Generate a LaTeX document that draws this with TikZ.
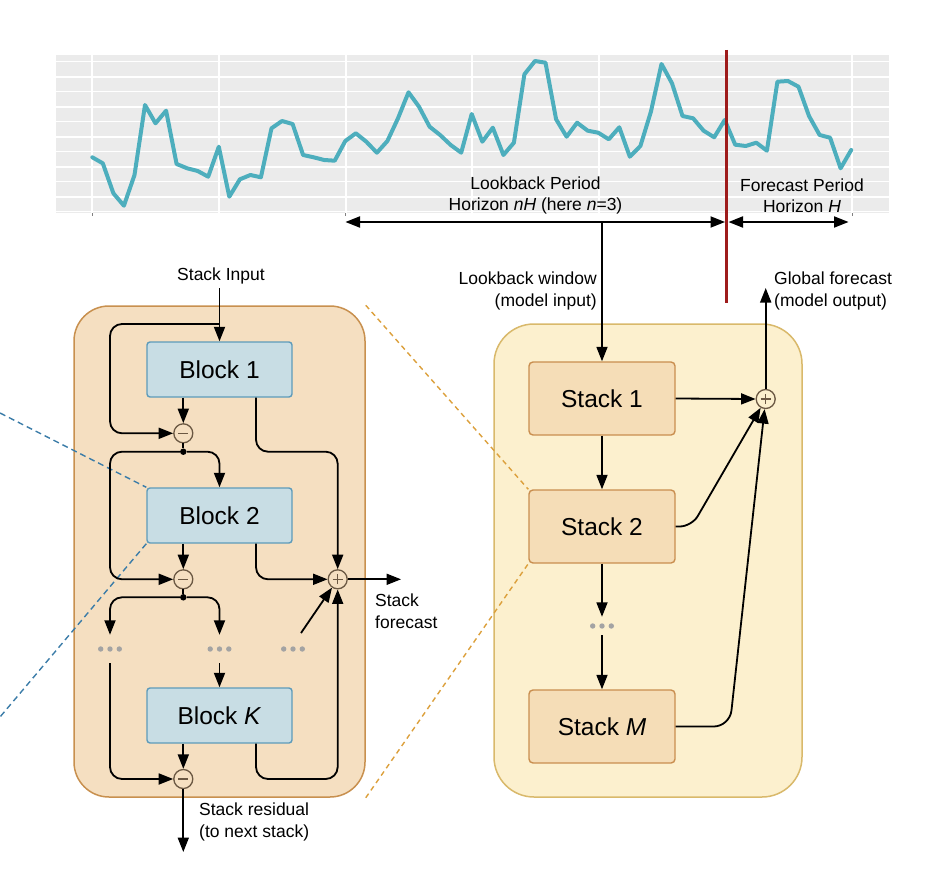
\documentclass[tikz,border=0pt]{standalone}
\usepackage{fontspec}
\setmainfont{Liberation Sans}
\usetikzlibrary{arrows.meta}
\definecolor{chartbg}{HTML}{EBEBEB}
\definecolor{series}{HTML}{4DAEBD}
\definecolor{cutred}{HTML}{9E1C1C}
\definecolor{lpfill}{HTML}{F5DFC1}
\definecolor{lpline}{HTML}{C8904F}
\definecolor{blkfill}{HTML}{C8DDE4}
\definecolor{blkline}{HTML}{5E9BBA}
\definecolor{rpfill}{HTML}{FCF0CE}
\definecolor{rpline}{HTML}{D9B96B}
\definecolor{stkfill}{HTML}{F5DDB7}
\definecolor{stkline}{HTML}{C98E4F}
\definecolor{opline}{HTML}{6B5843}
\definecolor{dotgray}{HTML}{A3A3A3}
\definecolor{bluedash}{HTML}{3B7CA8}
\definecolor{orangedash}{HTML}{DCA03C}
\begin{document}
\begin{tikzpicture}[x=1pt,y=-1pt,
  tip/.style={-{Triangle[length=14.5pt,width=11pt]}},
  wire/.style={line width=1.8pt, rounded corners=12pt},
  lbl/.style={font=\fontsize{17.5}{21.5}\selectfont, inner sep=0pt},
  blk/.style={draw=blkline, fill=blkfill, line width=1.4pt, rounded corners=3pt, minimum width=145pt, minimum height=55pt, inner sep=0pt, font=\fontsize{24.5}{28}\selectfont},
  stk/.style={draw=stkline, fill=stkfill, line width=1.4pt, rounded corners=4pt, minimum width=146pt, minimum height=73pt, inner sep=0pt, font=\fontsize{24.5}{28}\selectfont},
  opc/.style={circle, draw=opline, line width=1.3pt, minimum size=19pt, inner sep=0pt},
  opminus/.style={opc, fill=lpfill, path picture={\draw[line width=1.4pt] ([xshift=-5pt]path picture bounding box.center) -- ([xshift=5pt]path picture bounding box.center);}},
  opplus/.style={opc, path picture={\draw[line width=1.3pt] ([xshift=-5pt]path picture bounding box.center) -- ([xshift=5pt]path picture bounding box.center) ([yshift=-5pt]path picture bounding box.center) -- ([yshift=5pt]path picture bounding box.center);}},
  jdot/.style={circle, fill=black, minimum size=6.5pt, inner sep=0pt},
  ellip/.style={minimum width=28pt, minimum height=#1, inner sep=0pt},
  ellip/.default=28pt,
  panel/.style={line width=1.5pt, inner sep=0pt},
]
\useasboundingbox (0,0) rectangle (942,880);

% ---------- chart ----------
\fill[chartbg] (56,55) rectangle (889,213);
\foreach \k in {0,2,...,10} \draw[white, line width=1.2pt] (56,{61.7+15*\k}) -- (889,{61.7+15*\k});
\foreach \k in {1,3,...,9} \draw[white, line width=2.2pt] (56,{61.7+15*\k}) -- (889,{61.7+15*\k});
\foreach \k in {0,...,6} \draw[white, line width=2pt] ({92.3+126.65*\k},55) -- ({92.3+126.65*\k},213);
\foreach \x in {92.3,345.7,852} \draw[gray, line width=0.8pt] (\x,213) -- (\x,215.5);

\draw[series, line width=4pt, line join=round, line cap=round] plot coordinates {
(92.3,157.3) (102.8,163.3) (113.4,193.3) (123.9,205.7) (134.5,175) (145.0,105) (155.5,123.3) (166.1,110.7) (176.6,164) (187.2,168.3) (197.7,171) (208.2,176.7) (218.8,146.7) (229.3,196.7) (239.9,179.3) (250.4,175) (260.9,177.3) (271.5,128.3) (282.0,121) (292.6,124) (303.1,155) (313.6,157.3) (324.2,160) (334.7,160.7) (345.3,141) (355.8,133.3) (366.3,141.7) (376.9,152.7) (387.4,141) (398.0,118.3) (408.5,92.3) (419.0,106.7) (429.6,126.7) (440.1,135) (450.7,145) (461.2,152.7) (471.7,114) (482.3,141.7) (492.8,127.7) (503.4,155) (513.9,142.7) (524.4,74.3) (535.0,61) (545.5,62.7) (556.1,119.3) (566.6,136.7) (577.1,122.7) (587.7,130.7) (598.2,132.7) (608.8,139.3) (619.3,127.3) (629.8,156.7) (640.4,146) (650.9,111.7) (661.5,64) (672.0,83.3) (682.5,116) (693.1,118.3) (703.6,130.7) (714.2,137.3) (724.7,120) (735.2,144.7) (745.8,146) (756.3,142.7) (766.9,150.7) (777.4,81.7) (787.9,81) (798.5,86.7) (809.0,116) (819.6,135) (830.1,137.7) (840.6,168.3) (851.2,150)};

\draw[cutred, line width=3pt] (726.5,50) -- (726.5,303);

\node[lbl, align=center] (lbtxt) at (535.5,195.5) {Lookback Period\\Horizon \textit{nH} (here \textit{n}=3)};
\node[lbl, align=center] (fctxt) at (802,195.5) {Forecast Period\\Horizon \textit{H}};

\coordinate (lbL) at (345.5,222);
\coordinate (lbR) at (725,222);
\coordinate (fcL) at (728.5,222);
\coordinate (fcR) at (848.5,222);
\coordinate (lbM) at (602,222);
\draw[line width=1.8pt, {Triangle[length=14.5pt,width=11pt]}-{Triangle[length=14.5pt,width=11pt]}] (lbL) -- (lbR);
\draw[line width=1.8pt, {Triangle[length=14.5pt,width=11pt]}-{Triangle[length=14.5pt,width=11pt]}] (fcL) -- (fcR);

% ---------- panels ----------
\node[panel, draw=lpline, fill=lpfill, rounded corners=35pt, minimum width=291pt, minimum height=491pt] (lp) at (219.5,551.5) {};
\node[panel, draw=rpline, fill=rpfill, rounded corners=40pt, minimum width=308pt, minimum height=473pt] (rp) at (648,560.5) {};

% ---------- right stacks ----------
\node[stk] (s1) at (602,398.5) {Stack 1};
\node[stk] (s2) at (602,526.5) {Stack 2};
\node[stk] (sM) at (602,726.5) {Stack \textit{M}};
\node[ellip=18pt] (dS) at (602,626) {};
\node[opplus, fill=rpfill] (pR) at (765.7,399) {};

% dashed guide lines
\coordinate (bdA) at (0,413);
\coordinate (bdB) at (0,717);
\draw[orangedash, line width=1.4pt, dash pattern=on 5pt off 4pt] (lp.north east) -- (s2.north west);
\draw[orangedash, line width=1.4pt, dash pattern=on 5pt off 4pt] (lp.south east) -- (s2.south west);

% ---------- left blocks ----------
\node[blk] (b1) at (219.5,369.5) {Block 1};
\node[blk] (b2) at (219.5,515.5) {Block 2};
\node[blk] (bK) at (219.5,715.5) {Block \textit{K}};
\draw[bluedash, line width=1.4pt, dash pattern=on 6pt off 4pt] (bdA) -- (b2.north west);
\draw[bluedash, line width=1.4pt, dash pattern=on 6pt off 4pt] (b2.south west) -- (bdB);

\node[opminus] (m1) at (183.3,433.3) {};
\node[opminus] (m2) at (183.3,579.3) {};
\node[opminus] (m3) at (183.3,779) {};
\node[opplus, fill=lpfill] (pL) at (337.7,579.3) {};
\node[jdot] (j1) at (183.3,451.7) {};
\node[jdot] (j2) at (183.3,597.3) {};
\node[ellip] (dL) at (110,649) {};
\node[ellip] (dM) at (219.5,649) {};
\node[ellip] (dR) at (293,649) {};
\foreach \n in {dL,dM,dR,dS}
  \foreach \d in {-9.3,0,9.3}
    \fill[dotgray] ([xshift=\d pt]\n.center) circle (2.7pt);

\node[lbl] (sin) at (221,276) {Stack Input};
\coordinate (in) at (219.5,288);
\coordinate (br1) at (219.5,324);
\draw[wire, tip] (in) -- (b1.north);
\draw[wire, tip] (br1) -- (110,324) -- (110,433.3) -- (m1.west);
\draw[wire, tip] (b1.south -| m1) -- (m1.north);
\draw[wire, tip] ([xshift=36.5pt]b1.south) |- (j1 -| pL) -- (pL.north);
\draw[wire] (m1.south) -- (j1);
\draw[wire, tip] (j1) -| (b2.north);
\draw[wire, tip] (j1) -- (j1 -| dL) -- (m2 -| dL) -- (m2.west);
\draw[wire, tip] (b2.south -| m2) -- (m2.north);
\draw[wire, tip] ([xshift=36.5pt]b2.south) |- (pL.west);
\draw[wire] (m2.south) -- (j2);
\draw[wire, tip] (j2) -| (dL.north);
\draw[wire, tip] (j2) -| (dM.north);
\draw[wire, tip] (dM.south) -- (bK.north);
\draw[wire, tip] (dL.south) |- (m3.west);
\draw[wire, tip] (bK.south -| m3) -- (m3.north);
\draw[wire, tip] ([xshift=36.5pt]bK.south) |- (m3 -| pL) -- (pL.south);
\coordinate (dRa) at (301,633);
\draw[wire, tip] (dRa) -- (pL);
\coordinate (sfo) at (401,579.3);
\draw[wire, tip] (pL.east) -- (sfo);
\node[lbl, anchor=west, align=left] (sft) at (375,611) {Stack\\forecast};
\coordinate (res) at (183.3,852);
\draw[wire, tip] (m3.south) -- (res);
\node[lbl, anchor=west, align=left] (rst) at (199,822) {Stack residual\\(to next stack)};

% ---------- right connectors ----------
\draw[wire, tip] (lbM) -- (s1.north);
\draw[wire, tip] (s1.south) -- (s2.north);
\draw[wire, tip] (s2.south) -- (dS.north);
\draw[wire, tip] (dS.south) -- (sM.north);
\draw[wire, tip] (s1.east) -- (pR.west);
\draw[wire, tip] (s2.east) -- ++(16,0) -- (pR);
\draw[wire, rounded corners=16pt, tip] (sM.east) -- ++(54,0) -- (pR);
\coordinate (gout) at (765.7,288);
\draw[wire, tip] (pR.north) -- (gout);
\node[lbl, anchor=east, align=right] (lwt) at (597,291) {Lookback window\\(model input)};
\node[lbl, anchor=west, align=left] (gft) at (774,291) {Global forecast\\(model output)};
\end{tikzpicture}
\end{document}
